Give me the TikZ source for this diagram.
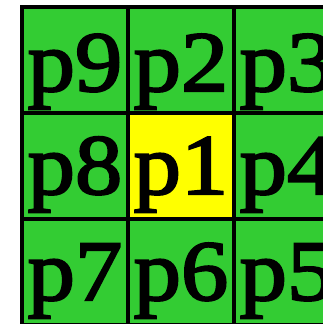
\documentclass[tikz,border=0pt]{standalone}
\usepackage{fontspec}
\newfontfamily\lblfont[FakeBold=2.5,FakeStretch=1.1]{Liberation Serif}
\definecolor{cellgreen}{HTML}{33CC33}
\definecolor{cellyellow}{HTML}{FFFF00}
\tikzset{
  cell/.style={draw=black, line width=3.2pt, fill=cellgreen},
  centercell/.style={cell, fill=cellyellow},
  lbl/.style={anchor=base, inner sep=0pt, font=\lblfont\fontsize{86}{86}\selectfont}
}
\begin{document}
\begin{tikzpicture}[x=1pt,y=-1pt]
\useasboundingbox (0,0) rectangle (323,324);
\begin{scope}
\clip (0,0) rectangle (323,324);
% cells
\foreach \c/\r in {0/0,1/0,2/0,0/1,2/1,0/2,1/2,2/2}{
  \draw[cell] ({22+106*\c},{7+106*\r}) rectangle ++(106,106);
}
\draw[centercell] (128,113) rectangle ++(106,106);
\foreach \c/\r/\n/\b in {0/0/p9/91,1/0/p2/91,2/0/p3/91,0/1/p8/194,1/1/p1/194,2/1/p4/194,0/2/p7/300,1/2/p6/300,2/2/p5/300}{
  \node[lbl] (\n) at ({75+106*\c},\b) {\n};
}
\end{scope}
\end{tikzpicture}
\end{document}
